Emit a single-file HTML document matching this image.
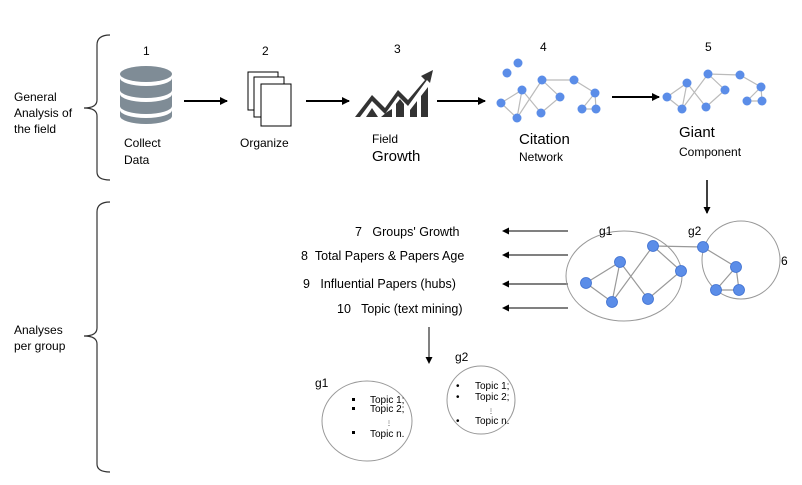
<!DOCTYPE html>
<html><head><meta charset="utf-8"><style>
html,body{margin:0;padding:0;background:#fff;}
svg{display:block;font-family:"Liberation Sans",sans-serif;}
</style></head><body>
<svg width="802" height="485" viewBox="0 0 802 485" xmlns="http://www.w3.org/2000/svg">
<defs>
<marker id="ah" markerWidth="8" markerHeight="8" refX="7" refY="4" orient="auto" markerUnits="userSpaceOnUse"><path d="M0,0 L8,4 L0,8 z" fill="#000"/></marker>
<marker id="ah2" markerWidth="7" markerHeight="7" refX="6" refY="3.5" orient="auto" markerUnits="userSpaceOnUse"><path d="M0,0 L7,3.5 L0,7 z" fill="#000"/></marker>
</defs>
<g fill="none" stroke="#333" stroke-width="1.2">
<path d="M110,35 Q97,35 97,45 L97,100 Q97,108 84,108 Q97,108 97,116 L97,172 Q97,180 110,180"/>
<path d="M110,202 Q97,202 97,212 L97,328 Q97,336 84,336 Q97,336 97,344 L97,464 Q97,472 110,472"/>
</g>
<g font-size="12" fill="#000">
<text x="14" y="101">General</text><text x="14" y="117">Analysis of</text><text x="14" y="133">the field</text>
<text x="14" y="334">Analyses</text><text x="14" y="350">per group</text>
<text x="143" y="55">1</text><text x="262" y="55">2</text><text x="394" y="53">3</text><text x="540" y="51">4</text><text x="705" y="51">5</text>
<text x="124" y="147">Collect</text><text x="124" y="164">Data</text>
<text x="240" y="147">Organize</text>
<text x="372" y="143">Field</text>
<text x="372" y="161" font-size="15">Growth</text>
<text x="519" y="144" font-size="15">Citation</text>
<text x="519" y="161">Network</text>
<text x="679" y="137" font-size="15">Giant</text>
<text x="679" y="156">Component</text>
</g>
<!-- database -->
<g fill="#7f8c96">
<ellipse cx="146" cy="74" rx="26" ry="8"/>
<path d="M120,78 v12 a26,8 0 0 0 52,0 v-12 a26,8 0 0 1 -52,0z"/>
<path d="M120,94 v12 a26,8 0 0 0 52,0 v-12 a26,8 0 0 1 -52,0z"/>
<path d="M120,110 v6 a26,8 0 0 0 52,0 v-6 a26,8 0 0 1 -52,0z"/>
</g>
<!-- docs -->
<g fill="#fff" stroke="#000" stroke-width="1">
<rect x="248" y="72" width="30" height="38"/>
<rect x="254" y="77" width="30" height="40"/>
<rect x="261" y="84" width="30" height="42"/>
</g>
<!-- growth -->
<g fill="#333">
<path d="M355,117 L372,95 L385,108 L398,90 L408,100 L425,80 L421,76 L433,70 L430,83 L427,80 L408,106 L398,96 L385,114 L372,101 L360,117z"/>
<path d="M366,117 L372,108 L378,117z M381,117 L387,112 L392,109 L392,117z M396,117 L396,104 L400,99 L404,104 L404,117z M410,117 L410,110 L417,101 L417,117z M421,117 L421,96 L428,87 L428,117z"/>
</g>
<g stroke="#000" stroke-width="2" fill="none">
<line x1="184" y1="101" x2="227" y2="101" marker-end="url(#ah)"/>
<line x1="306" y1="101" x2="349" y2="101" marker-end="url(#ah)"/>
<line x1="437" y1="101" x2="485" y2="101" marker-end="url(#ah)"/>
<line x1="612" y1="97" x2="659" y2="97" marker-end="url(#ah)"/>
<line x1="707" y1="180" x2="707" y2="213" stroke-width="1.5" marker-end="url(#ah2)"/>
</g>
<g stroke="#000" stroke-width="1" fill="none">
<line x1="568" y1="231" x2="503" y2="231" marker-end="url(#ah2)"/>
<line x1="568" y1="255" x2="503" y2="255" marker-end="url(#ah2)"/>
<line x1="568" y1="284" x2="503" y2="284" marker-end="url(#ah2)"/>
<line x1="568" y1="308" x2="503" y2="308" marker-end="url(#ah2)"/>
<line x1="429" y1="327" x2="429" y2="363" marker-end="url(#ah2)"/>
</g>
<!-- network 4/5 edges -->
<g stroke="#bbb" stroke-width="1.2" fill="none">
<path d="M501,103 L522,90 L517,118 Z M522,90 L541,113 M517,118 L542,80 L574,80 L595,93 L596,109 L582,109 L595,93 M542,80 L560,97 L541,113"/>
<path d="M667,97 L687,83 L682,109 Z M687,83 L706,107 M682,109 L708,74 L740,75 L761,87 L762,101 L747,101 L761,87 M708,74 L725,90 L706,107"/>
</g>
<g fill="#5b8de8">
<circle cx="518" cy="63" r="4.5"/><circle cx="507" cy="73" r="4.5"/><circle cx="522" cy="90" r="4.5"/><circle cx="501" cy="103" r="4.5"/><circle cx="517" cy="118" r="4.5"/><circle cx="542" cy="80" r="4.5"/><circle cx="574" cy="80" r="4.5"/><circle cx="560" cy="97" r="4.5"/><circle cx="541" cy="113" r="4.5"/><circle cx="595" cy="93" r="4.5"/><circle cx="582" cy="109" r="4.5"/><circle cx="596" cy="109" r="4.5"/>
<circle cx="667" cy="97" r="4.5"/><circle cx="687" cy="83" r="4.5"/><circle cx="682" cy="109" r="4.5"/><circle cx="708" cy="74" r="4.5"/><circle cx="725" cy="90" r="4.5"/><circle cx="706" cy="107" r="4.5"/><circle cx="740" cy="75" r="4.5"/><circle cx="761" cy="87" r="4.5"/><circle cx="747" cy="101" r="4.5"/><circle cx="762" cy="101" r="4.5"/>
</g>
<!-- group network 6 -->
<ellipse cx="624" cy="276" rx="58" ry="45" fill="none" stroke="#999"/>
<circle cx="741" cy="260" r="39" fill="none" stroke="#999"/>
<g stroke="#999" stroke-width="1.2" fill="none">
<path d="M586,283 L620,262 L612,302 Z M620,262 L648,299 L681,271 L653,246 L612,302 M653,246 L703,247 L736,267 L739,290 L716,290 L736,267"/>
</g>
<g fill="#5b8de8" stroke="#3d6fd0" stroke-width="0.8">
<circle cx="586" cy="283" r="5.5"/><circle cx="620" cy="262" r="5.5"/><circle cx="653" cy="246" r="5.5"/><circle cx="681" cy="271" r="5.5"/><circle cx="612" cy="302" r="5.5"/><circle cx="648" cy="299" r="5.5"/><circle cx="703" cy="247" r="5.5"/><circle cx="736" cy="267" r="5.5"/><circle cx="716" cy="290" r="5.5"/><circle cx="739" cy="290" r="5.5"/>
</g>
<g font-size="12" fill="#000">
<text x="599" y="235">g1</text><text x="688" y="235">g2</text><text x="781" y="265">6</text>
<text x="355" y="236" font-size="12.5">7 &#160; Groups' Growth</text>
<text x="301" y="260" font-size="12.5">8 &#160;Total Papers &amp; Papers Age</text>
<text x="303" y="288" font-size="12.5">9 &#160; Influential Papers (hubs)</text>
<text x="337" y="313" font-size="12.5">10 &#160; Topic (text mining)</text>
<text x="315" y="387">g1</text><text x="455" y="361">g2</text>
</g>
<ellipse cx="367" cy="421" rx="45" ry="40" fill="none" stroke="#999"/>
<circle cx="481" cy="400" r="34" fill="none" stroke="#999"/>
<g font-size="10" fill="#000">
<rect x="352" y="398" width="3" height="3"/><text x="370" y="403">Topic 1;</text>
<rect x="352" y="407" width="3" height="3"/><text x="370" y="412">Topic 2;</text>
<text x="386" y="425" font-size="6">⋮</text>
<rect x="352" y="431" width="3" height="3"/><text x="370" y="437">Topic n.</text>
<text x="456" y="389">•</text><text x="475" y="389">Topic 1;</text>
<text x="456" y="400">•</text><text x="475" y="400">Topic 2;</text>
<text x="488" y="413" font-size="6">⋮</text>
<text x="456" y="424">•</text><text x="475" y="424">Topic n.</text>
</g>
</svg>
</body></html>
